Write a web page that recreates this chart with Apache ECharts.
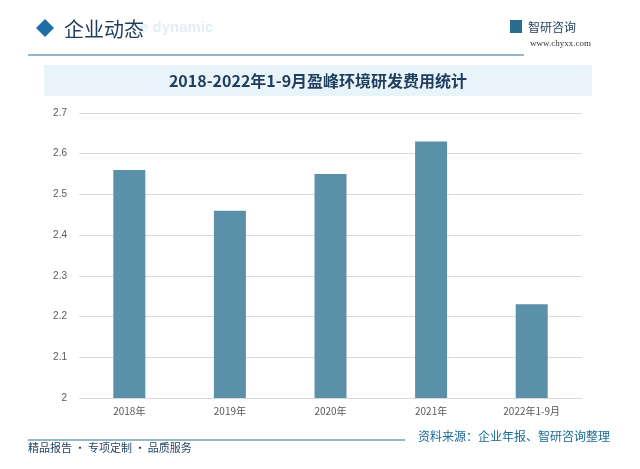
<!DOCTYPE html>
<html><head><meta charset="utf-8">
<script src="https://cdn.jsdelivr.net/npm/echarts@6/dist/echarts.min.js"></script>
<style>html,body{margin:0;padding:0;background:#fff}#chart{width:640px;height:469px}</style>
</head><body><div id="chart"></div>
<script>
const categories = ['2018年', '2019年', '2020年', '2021年', '2022年1-9月'];
const values = [2.56, 2.46, 2.55, 2.63, 2.23];
const yTicks = [2, 2.1, 2.2, 2.3, 2.4, 2.5, 2.6, 2.7];

const chart = echarts.init(document.getElementById('chart'));
const font = '"Noto Sans CJK SC", sans-serif';
chart.setOption({
    animation: false,
    grid: { left: 79, right: 58, top: 113, bottom: 71 },
    xAxis: {
        type: 'category', data: categories,
        axisLine: { lineStyle: { color: '#d9d9d9' } },
        axisTick: { show: false },
        axisLabel: { color: '#595959', fontSize: 10, fontFamily: font, margin: 8 }
    },
    yAxis: {
        type: 'value', min: 2, max: 2.7, interval: 0.1,
        axisLine: { show: false }, axisTick: { show: false },
        splitLine: { lineStyle: { color: '#d9d9d9' } },
        axisLabel: {
            color: '#595959', fontSize: 10, margin: 12,
            formatter: v => { const t = yTicks.find(x => Math.abs(x - v) < 1e-6); return t === undefined ? '' : String(t); }
        }
    },
    series: [{
        type: 'bar', data: values, barWidth: 32,
        itemStyle: { color: '#5b91a8' }
    }],
    graphic: [
        { type: 'rect', shape: { x: 44, y: 65, width: 548, height: 31 }, style: { fill: '#e8f3fa' } },
        { type: 'text', x: 318, y: 81, style: { text: '2018-2022年1-9月盈峰环境研发费用统计', fill: '#1f3d5c', font: 'bold 16px ' + font, align: 'center', verticalAlign: 'middle' } },
        { type: 'polygon', shape: { points: [[36, 28], [45, 19], [54, 28], [45, 37]] }, style: { fill: '#1f6ea6' } },
        { type: 'text', x: 58, y: 29, style: { text: 'e dynamic', fill: '#e3eef6', font: 'bold 15px sans-serif', align: 'left', verticalAlign: 'middle' }, left: 140, top: 20 },
        { type: 'text', x: 64, y: 29, style: { text: '企业动态', fill: '#1f3d5c', font: '20px ' + font, verticalAlign: 'middle' } },
        { type: 'line', shape: { x1: 28, y1: 55, x2: 524, y2: 55 }, style: { stroke: '#2a6e8f', lineWidth: 1 } },
        { type: 'text', x: 528, y: 27, style: { text: '智研咨询', fill: '#1f3d5c', font: '12px ' + font, verticalAlign: 'middle' } },
        { type: 'rect', shape: { x: 510, y: 20, width: 12, height: 13 }, style: { fill: '#2a6e8f' } },
        { type: 'text', x: 530, y: 44, style: { text: 'www.chyxx.com', fill: '#333', font: '9px serif', verticalAlign: 'middle' } },
        { type: 'line', shape: { x1: 28, y1: 440, x2: 405, y2: 440 }, style: { stroke: '#2a6e8f', lineWidth: 1 } },
        { type: 'text', x: 28, y: 448, style: { text: '精品报告 · 专项定制 · 品质服务', fill: '#1f3d5c', font: '11px ' + font, verticalAlign: 'middle' } },
        { type: 'text', x: 418, y: 436, style: { text: '资料来源：企业年报、智研咨询整理', fill: '#1a6a9a', font: '12px ' + font, verticalAlign: 'middle' } }
    ]
});
</script></body></html>
